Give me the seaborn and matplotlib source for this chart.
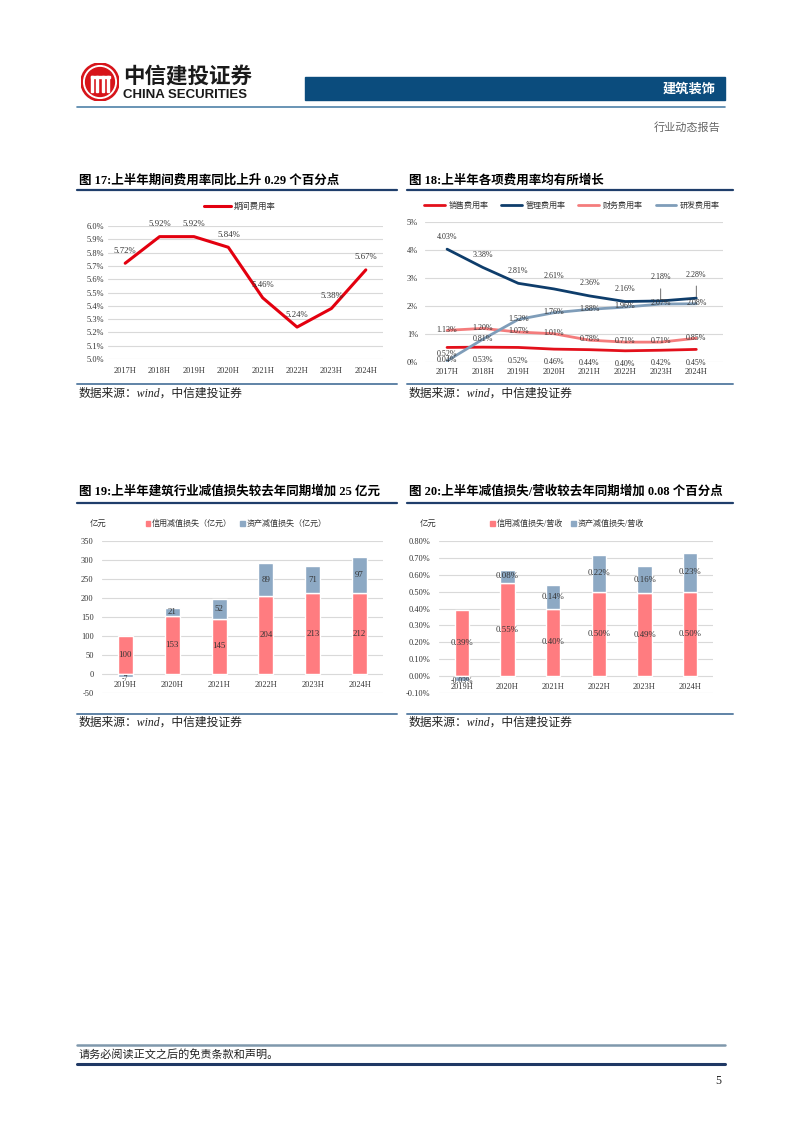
import numpy as np
import pandas as pd
import matplotlib
matplotlib.use("Agg")
import matplotlib.pyplot as plt
import seaborn as sns
from matplotlib.lines import Line2D
from matplotlib.patches import Rectangle, Circle, Patch
from matplotlib.ticker import FuncFormatter

# ---------------- data ----------------
years_17 = ["2017H", "2018H", "2019H", "2020H", "2021H", "2022H", "2023H", "2024H"]
period_rate = [5.72, 5.92, 5.92, 5.84, 5.46, 5.24, 5.38, 5.67]

years_18 = ["2017H", "2018H", "2019H", "2020H", "2021H", "2022H", "2023H", "2024H"]
sales_rate = [0.52, 0.53, 0.52, 0.46, 0.44, 0.40, 0.42, 0.45]
admin_rate = [4.03, 3.38, 2.81, 2.61, 2.36, 2.16, 2.18, 2.28]
fin_rate = [1.13, 1.20, 1.07, 1.01, 0.78, 0.71, 0.71, 0.85]
rd_rate = [0.04, 0.81, 1.52, 1.76, 1.88, 1.96, 2.07, 2.08]
series_18 = ["销售费用率", "管理费用率", "财务费用率", "研发费用率"]

years_19 = ["2019H", "2020H", "2021H", "2022H", "2023H", "2024H"]
credit_loss = [100, 153, 145, 204, 213, 212]
asset_loss = [-7, 21, 52, 89, 71, 97]

credit_ratio = [0.39, 0.55, 0.40, 0.50, 0.49, 0.50]
asset_ratio = [-0.03, 0.08, 0.14, 0.22, 0.16, 0.23]

# ---------------- style ----------------
sns.set_theme(style="white")
plt.rcParams["font.family"] = ["Liberation Serif", "Noto Sans CJK SC", "DejaVu Sans"]
plt.rcParams["axes.unicode_minus"] = False

W, H = 802, 1133
fig = plt.figure(figsize=(W / 100, H / 100), dpi=100)
fig.patch.set_facecolor("white")

RED = "#E3000F"
NAVY = "#0E3D6B"
PINK = "#FF7C80"
STEEL = "#8DA9C4"
GRID = "#D9D9D9"
TXT = "#333333"


def fx(x):
    return x / W


def fy(y):
    return 1 - y / H


def ax_rect(x0, y0, x1, y1):
    return fig.add_axes([fx(x0), fy(y1), (x1 - x0) / W, (y1 - y0) / H])


def ftext(x, y, s, **kw):
    fig.text(fx(x), fy(y), s, **kw)


def hline(x0, x1, y, color, lw):
    fig.add_artist(Line2D([fx(x0), fx(x1)], [fy(y), fy(y)], color=color, lw=lw,
                          transform=fig.transFigure))


# ---------------- page header ----------------
logo = ax_rect(81, 63, 119, 101)
logo.set_xlim(-1, 1)
logo.set_ylim(-1, 1)
logo.set_aspect("equal")
logo.axis("off")
logo.add_patch(Circle((0, 0), 1.0, color="#D7141A"))
logo.add_patch(Circle((0, 0), 0.86, color="white"))
logo.add_patch(Circle((0, 0), 0.76, color="#D7141A"))
for xc in (-0.42, -0.14, 0.14, 0.42):
    logo.add_patch(Rectangle((xc - 0.06, -0.55), 0.12, 0.85, color="white"))
logo.add_patch(Rectangle((-0.5, 0.22), 1.0, 0.1, color="white"))

ftext(123, 76, "中信建投证券", fontsize=15.5, fontweight="bold", color="#1A1A1A",
      family=["Noto Sans CJK SC"], va="center", ha="left")
ftext(123, 95, "CHINA SECURITIES", fontsize=9.5, fontweight="bold", color="#1A1A1A",
      family=["Liberation Sans"], va="center", ha="left")

fig.add_artist(Rectangle((fx(305), fy(100)), 420 / W, 23 / H, color="#0B4C7D",
                         transform=fig.transFigure))
ftext(716, 89, "建筑装饰", fontsize=9.5, fontweight="bold", color="white",
      family=["Noto Sans CJK SC"], ha="right", va="center")
hline(77, 725, 107, "#4F81A8", 1.2)
ftext(720, 127, "行业动态报告", fontsize=8, color="#666666",
      family=["Noto Sans CJK SC"], ha="right", va="center")

# ---------------- chart frames ----------------
def frame(x0, x1, y_title, y_tl, y_bl, y_src, title):
    ftext(x0 + 2, y_title, title, fontsize=9, fontweight="bold", color="black",
          ha="left", va="center")
    hline(x0, x1, y_tl, "#1F3E6B", 1.6)
    hline(x0, x1, y_bl, "#5F83A6", 1.4)
    ftext(x0 + 2, y_src, "数据来源：wind，中信建投证券", fontsize=8.5, style="italic",
          color="#222222", ha="left", va="center")


frame(77, 397, 181, 190, 384, 394, "图 17:上半年期间费用率同比上升 0.29 个百分点")
frame(407, 733, 181, 190, 384, 394, "图 18:上半年各项费用率均有所增长")
frame(77, 397, 492, 503, 714, 723, "图 19:上半年建筑行业减值损失较去年同期增加 25 亿元")
frame(407, 733, 492, 503, 714, 723, "图 20:上半年减值损失/营收较去年同期增加 0.08 个百分点")


def style_axes(ax):
    for s in ax.spines.values():
        s.set_visible(False)
    ax.grid(axis="y", color=GRID, lw=0.8)
    ax.grid(axis="x", visible=False)
    ax.set_axisbelow(True)
    ax.tick_params(axis="both", length=0, labelsize=6, colors=TXT)
    ax.set_xlabel("")
    ax.set_ylabel("")


# ---------------- chart 17 ----------------
ax1 = ax_rect(108, 226, 383, 359)
x17 = np.arange(len(years_17))
sns.lineplot(x=x17, y=period_rate, color=RED, lw=2.2, ax=ax1, label="期间费用率")
ax1.set_xlim(-0.5, len(years_17) - 0.5)
ax1.set_ylim(5.0, 6.0)
ax1.set_yticks(np.arange(5.0, 6.01, 0.1))
ax1.yaxis.set_major_formatter(FuncFormatter(lambda v, p: f"{v:.1f}%"))
ax1.set_xticks(x17)
ax1.set_xticklabels(years_17)
style_axes(ax1)
ax1.tick_params(axis="x", pad=6)
ax1.tick_params(axis="y", pad=3)
for xi, v in zip(x17, period_rate):
    ax1.annotate(f"{v:.2f}%", (xi, v), xytext=(0, 9), textcoords="offset points",
                 ha="center", va="center", fontsize=6.3, color=TXT)
ax1.legend(loc="center", bbox_to_anchor=(fx(240), fy(207)), bbox_transform=fig.transFigure,
           frameon=False, fontsize=6, handlelength=3.2, handletextpad=0.4,
           labelcolor=TXT)

# ---------------- chart 18 ----------------
ax2 = ax_rect(425, 222, 723, 362)
x18 = np.arange(len(years_18))
df18 = pd.DataFrame({
    "x": np.tile(x18, 4),
    "v": sales_rate + admin_rate + fin_rate + rd_rate,
    "s": np.repeat(series_18, len(x18)),
})
pal18 = {"销售费用率": "#E3101B", "管理费用率": NAVY, "财务费用率": "#F47C7C", "研发费用率": "#7F9DB9"}
sns.lineplot(data=df18, x="x", y="v", hue="s", palette=pal18, lw=2, ax=ax2,
             hue_order=series_18)
ax2.set_xlim(-0.62, 7.75)
ax2.set_ylim(0, 5)
ax2.set_yticks(range(0, 6))
ax2.yaxis.set_major_formatter(FuncFormatter(lambda v, p: f"{v:.0f}%"))
ax2.set_xticks(x18)
ax2.set_xticklabels(years_18)
style_axes(ax2)
ax2.tick_params(axis="x", pad=4)
ax2.tick_params(axis="y", pad=5)
handles = [Line2D([0], [0], color=pal18[s], lw=2) for s in series_18]
ax2.legend(handles, series_18, loc="center", bbox_to_anchor=(fx(572), fy(206)),
           bbox_transform=fig.transFigure, ncol=4, frameon=False, fontsize=5.8,
           handlelength=2.6, handletextpad=0.4, columnspacing=1.6, labelcolor=TXT)

lab_kw = dict(textcoords="offset points", ha="center", va="center", fontsize=5.8, color=TXT)
n18 = len(x18)
for i, v in enumerate(admin_rate):
    if i >= n18 - 2:
        ax2.annotate(f"{v:.2f}%", (x18[i], v), xytext=(0, 17), **lab_kw,
                     arrowprops=dict(arrowstyle="-", color="#555555", lw=0.6,
                                     shrinkA=3, shrinkB=1))
    else:
        ax2.annotate(f"{v:.2f}%", (x18[i], v), xytext=(0, 9), **lab_kw)
for i, v in enumerate(sales_rate):
    ax2.annotate(f"{v:.2f}%", (x18[i], v), xytext=(0, -5 if i == 0 else -9.5), **lab_kw)
for i, v in enumerate(fin_rate):
    ax2.annotate(f"{v:.2f}%", (x18[i], v), xytext=(0, 0.5), **lab_kw)
for i, v in enumerate(rd_rate):
    ax2.annotate(f"{v:.2f}%", (x18[i], v), xytext=(0, 0.5), **lab_kw)


# ---------------- chart 19 & 20 (stacked bars) ----------------
def stacked(ax, cats, base, top, ylim, yticks, fmt, lab_fmt, leg_labels, leg_x):
    df = pd.DataFrame({"cat": cats, "v": base})
    sns.barplot(data=df, x="cat", y="v", color=PINK, saturation=1, width=0.32, ax=ax)
    xs = np.arange(len(cats))
    top = np.asarray(top, dtype=float)
    base_arr = np.asarray(base, dtype=float)
    bottoms = np.where(top >= 0, base_arr, 0)
    ax.bar(xs, top, bottom=bottoms, width=0.32, color=STEEL)
    ax.set_xlim(-0.5, len(cats) - 0.5)
    ax.set_ylim(*ylim)
    ax.set_yticks(yticks)
    ax.yaxis.set_major_formatter(FuncFormatter(fmt))
    style_axes(ax)
    ax.spines["bottom"].set_position(("data", 0))
    ax.tick_params(axis="x", pad=5)
    ax.tick_params(axis="y", pad=6)
    for i in xs:
        ax.text(i, base_arr[i] / 2, lab_fmt(base_arr[i]), ha="center", va="center",
                fontsize=6.3, color=TXT)
        if top[i] >= 0:
            ax.text(i, bottoms[i] + top[i] / 2, lab_fmt(top[i]), ha="center", va="center",
                    fontsize=6.3, color=TXT)
        else:
            ax.annotate(lab_fmt(top[i]), (i, 0), xytext=(0, -0.5), textcoords="offset points",
                        ha="center", va="top", fontsize=5.6, color=TXT)
    hs = [Patch(color=PINK), Patch(color=STEEL)]
    ax.legend(hs, leg_labels, loc="center", bbox_to_anchor=(fx(leg_x), fy(524)),
              bbox_transform=fig.transFigure, ncol=2, frameon=False, fontsize=5.8,
              handlelength=0.6, handleheight=0.6, handletextpad=0.2, columnspacing=1.0,
              labelcolor=TXT)


ax3 = ax_rect(102, 541, 383, 693)
stacked(ax3, years_19, credit_loss, asset_loss, (-50, 350), np.arange(-50, 351, 50),
        lambda v, p: f"{v:.0f}", lambda v: f"{v:.0f}",
        ["信用减值损失（亿元）", "资产减值损失（亿元）"], 236)
ftext(90, 524, "亿元", fontsize=6, color=TXT, ha="left", va="center")

ax4 = ax_rect(439, 541, 713, 693)
stacked(ax4, years_19, credit_ratio, asset_ratio, (-0.1, 0.8), np.arange(-0.1, 0.801, 0.1),
        lambda v, p: f"{v:.2f}%", lambda v: f"{v:.2f}%",
        ["信用减值损失/营收", "资产减值损失/营收"], 567)
ftext(420, 524, "亿元", fontsize=6, color=TXT, ha="left", va="center")

# ---------------- footer ----------------
hline(77, 725, 1045, "#7F98AC", 1.8)
ftext(79, 1054, "请务必阅读正文之后的免责条款和声明。", fontsize=8, color="#222222",
      ha="left", va="center")
hline(77, 725, 1064, "#1F3864", 2.2)
ftext(721, 1081, "5", fontsize=8.5, color="#222222", ha="right", va="center")

fig.savefig("out.png", dpi=100, facecolor="white")
